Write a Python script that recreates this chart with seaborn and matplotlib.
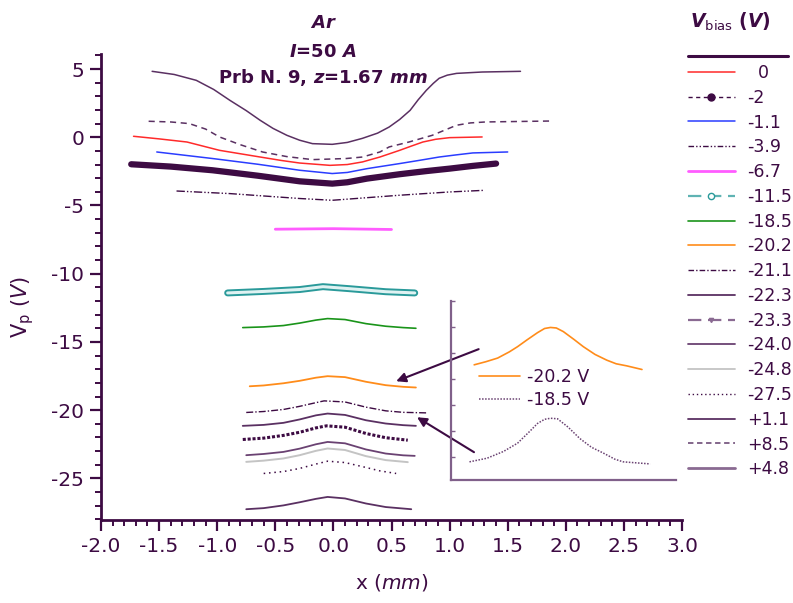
import matplotlib
matplotlib.use('Agg')
import matplotlib.pyplot as plt
import matplotlib.patheffects as pe
from matplotlib.lines import Line2D
from matplotlib.ticker import MultipleLocator, FormatStrFormatter
import seaborn as sns

sns.set_style('ticks')
plt.rcParams['font.family'] = ['DejaVu Sans']
plt.rcParams['axes.unicode_minus'] = False
plt.rcParams['mathtext.fontset'] = 'custom'
plt.rcParams['mathtext.rm'] = 'DejaVu Sans'
plt.rcParams['mathtext.it'] = 'DejaVu Sans:italic'
plt.rcParams['mathtext.bf'] = 'DejaVu Sans:italic:bold'

DARK = '#3d0b43'
PURP = '#5a3062'

# Datos (x en mm, Vp en V)
x_p48 = [-1.56, -1.37, -1.18, -1.03, -0.89, -0.75, -0.63, -0.52, -0.40, -0.29, -0.18, -0.01, 0.12,
         0.25, 0.38, 0.48, 0.57, 0.66, 0.73, 0.80, 0.86, 0.91, 0.98, 1.06, 1.28, 1.61]
y_p48 = [4.83, 4.60, 4.17, 3.50, 2.70, 1.95, 1.24, 0.65, 0.14, -0.22, -0.47, -0.52, -0.38,
         -0.08, 0.30, 0.75, 1.30, 1.97, 2.75, 3.44, 3.95, 4.32, 4.55, 4.68, 4.78, 4.83]

x_p85 = [-1.59, -1.40, -1.24, -1.10, -0.98, -0.80, -0.61, -0.40, -0.18, 0.11, 0.25, 0.40, 0.48,
         0.65, 0.85, 1.06, 1.18, 1.31, 1.88]
y_p85 = [1.17, 1.12, 1.00, 0.60, 0.02, -0.55, -1.08, -1.42, -1.64, -1.56, -1.45, -1.08, -0.71,
         -0.35, 0.14, 0.88, 1.05, 1.12, 1.19]

x_0 = [-1.72, -1.50, -1.26, -0.98, -0.63, -0.45, -0.29, -0.03, 0.12, 0.25, 0.40, 0.57, 0.67,
       0.77, 0.88, 1.00, 1.28]
y_0 = [0.07, -0.12, -0.35, -0.96, -1.45, -1.70, -1.89, -2.06, -2.00, -1.81, -1.45, -0.96, -0.65,
       -0.35, -0.15, -0.03, 0.02]

x_m11 = [-1.52, -1.04, -0.65, -0.29, -0.01, 0.12, 0.29, 0.57, 0.75, 0.91, 1.05, 1.20, 1.50]
y_m11 = [-1.08, -1.56, -1.98, -2.42, -2.66, -2.58, -2.30, -1.93, -1.68, -1.45, -1.30, -1.15, -1.08]

x_m2 = [-1.74, -1.40, -1.04, -0.65, -0.29, -0.01, 0.12, 0.29, 0.57, 0.80, 1.00, 1.20, 1.40]
y_m2 = [-1.98, -2.15, -2.42, -2.82, -3.23, -3.40, -3.30, -3.03, -2.71, -2.48, -2.30, -2.10, -1.93]

x_m39 = [-1.35, -0.89, -0.29, -0.01, 0.57, 1.00, 1.30]
y_m39 = [-3.94, -4.13, -4.49, -4.62, -4.25, -4.01, -3.89]

x_m67 = [-0.50, 0.00, 0.50]
y_m67 = [-6.74, -6.70, -6.76]

x_m115 = [-0.91, -0.60, -0.29, -0.09, 0.14, 0.45, 0.70]
y_m115 = [-11.41, -11.30, -11.16, -10.95, -11.10, -11.32, -11.41]

x_m185 = [-0.78, -0.60, -0.43, -0.29, -0.15, -0.05, 0.10, 0.28, 0.45, 0.60, 0.71]
y_m185 = [-13.95, -13.90, -13.80, -13.62, -13.40, -13.29, -13.36, -13.66, -13.85, -13.95, -14.00]

x_m202 = [-0.72, -0.60, -0.43, -0.29, -0.15, -0.05, 0.10, 0.28, 0.45, 0.60, 0.71]
y_m202 = [-18.25, -18.19, -18.03, -17.85, -17.62, -17.51, -17.58, -17.92, -18.17, -18.29, -18.34]

x_m211 = [-0.75, -0.60, -0.43, -0.29, -0.15, -0.08, 0.10, 0.28, 0.45, 0.60, 0.80]
y_m211 = [-20.17, -20.10, -19.95, -19.72, -19.45, -19.32, -19.40, -19.78, -20.05, -20.16, -20.20]

x_m223 = [-0.78, -0.60, -0.43, -0.29, -0.15, -0.05, 0.10, 0.28, 0.45, 0.60, 0.71]
y_m223 = [-21.15, -21.08, -20.93, -20.68, -20.38, -20.25, -20.35, -20.74, -20.98, -21.10, -21.15]

x_m233 = [-0.78, -0.60, -0.43, -0.29, -0.15, -0.06, 0.10, 0.28, 0.45, 0.64]
y_m233 = [-22.15, -22.05, -21.85, -21.62, -21.30, -21.15, -21.25, -21.71, -22.02, -22.20]

x_m240 = [-0.75, -0.60, -0.43, -0.29, -0.15, -0.05, 0.10, 0.28, 0.45, 0.60, 0.70]
y_m240 = [-23.30, -23.21, -23.06, -22.82, -22.50, -22.33, -22.43, -22.88, -23.18, -23.31, -23.35]

x_m248 = [-0.75, -0.60, -0.43, -0.29, -0.15, -0.05, 0.10, 0.28, 0.45, 0.64]
y_m248 = [-23.79, -23.70, -23.54, -23.30, -22.98, -22.81, -22.92, -23.37, -23.66, -23.81]

x_m275 = [-0.60, -0.43, -0.29, -0.15, -0.05, 0.10, 0.28, 0.40, 0.54]
y_m275 = [-24.64, -24.50, -24.27, -23.95, -23.74, -23.84, -24.20, -24.45, -24.64]

x_p11 = [-0.75, -0.60, -0.43, -0.29, -0.15, -0.05, 0.10, 0.28, 0.45, 0.67]
y_p11 = [-27.26, -27.18, -26.98, -26.75, -26.50, -26.36, -26.47, -26.84, -27.10, -27.26]

# inset (ampliado)
xi_a = [-0.65, -0.55, -0.45, -0.35, -0.28, -0.20, -0.11, -0.05, 0.00, 0.05, 0.11, 0.20, 0.28,
        0.38, 0.48, 0.56, 0.65, 0.78]
yi_a = [-18.23, -18.17, -18.10, -17.98, -17.88, -17.75, -17.61, -17.53, -17.51, -17.52, -17.59,
        -17.74, -17.88, -18.03, -18.14, -18.21, -18.25, -18.32]
xi_b = [-0.69, -0.54, -0.40, -0.28, -0.18, -0.11, -0.05, 0.00, 0.06, 0.15, 0.25, 0.35, 0.45,
        0.55, 0.62, 0.85]
yi_b = [-20.10, -20.03, -19.90, -19.74, -19.52, -19.36, -19.28, -19.26, -19.27, -19.43, -19.65,
        -19.82, -19.93, -20.05, -20.10, -20.14]

leyenda = ['  0', '-2', '-1.1', '-3.9', '-6.7', '-11.5', '-18.5', '-20.2', '-21.1',
           '-22.3', '-23.3', '-24.0', '-24.8', '-27.5', '+1.1', '+8.5', '+4.8']

W, H = 793, 603
fig = plt.figure(figsize=(W / 100, H / 100), dpi=100)
ax = fig.add_axes([101 / W, 1 - 520 / H, (682 - 101) / W, (520 - 54) / H])


def curva(x, y, **kw):
    sns.lineplot(x=x, y=y, ax=ax, sort=False, estimator=None, **kw)


curva(x_p48, y_p48, color=PURP, lw=1.1)
curva(x_p85, y_p85, color=PURP, lw=1.1, dashes=(4, 3))
curva(x_0, y_0, color='#ff2a2a', lw=1.1)
curva(x_m11, y_m11, color='#2a3cff', lw=1.1)
curva(x_m2, y_m2, color=DARK, lw=4.5, solid_joinstyle='round')
curva(x_m39, y_m39, color=DARK, lw=1.0, dashes=(6, 1.5, 1, 1.5, 1, 1.5))
curva(x_m67, y_m67, color='#ff5cff', lw=2.0)
curva(x_m115, y_m115, color='#2a9a9a', lw=5.0,
      path_effects=[pe.Stroke(linewidth=5.0, foreground='#2a9a9a'),
                    pe.Stroke(linewidth=2.2, foreground='#dff2f2')])
curva(x_m185, y_m185, color='#1a941a', lw=1.2)
curva(x_m202, y_m202, color='#ff8c1a', lw=1.3)
curva(x_m211, y_m211, color=DARK, lw=1.0, dashes=(5, 1.5, 1, 1.5))
curva(x_m223, y_m223, color=PURP, lw=1.3)
curva(x_m233, y_m233, color=DARK, lw=2.2, dashes=(1, 0.6))
curva(x_m240, y_m240, color='#6a4272', lw=1.3)
curva(x_m248, y_m248, color='#c4c4c4', lw=1.4)
curva(x_m275, y_m275, color=DARK, lw=1.1, dashes=(1, 2.5))
curva(x_p11, y_p11, color=PURP, lw=1.3)

ax.set_xlim(-2.0, 3.0)
ax.set_ylim(-28.05, 6.1)
ax.xaxis.set_major_locator(MultipleLocator(0.5))
ax.xaxis.set_minor_locator(MultipleLocator(0.1))
ax.yaxis.set_major_locator(MultipleLocator(5))
ax.yaxis.set_minor_locator(MultipleLocator(1))
ax.xaxis.set_major_formatter(FormatStrFormatter('%.1f'))
sns.despine(ax=ax)
for s in ['left', 'bottom']:
    ax.spines[s].set_color(DARK)
    ax.spines[s].set_linewidth(2)
ax.tick_params(which='major', direction='out', length=8, width=1.6, colors=DARK, labelsize=14.5, pad=4)
ax.tick_params(which='minor', direction='out', length=4, width=1.4, colors=DARK)
ax.set_xlabel('x ($\\mathit{mm}$)', fontsize=14.5, color=DARK, labelpad=12)
ax.set_ylabel('V$_\\mathrm{p}$ ($\\mathit{V}$)', fontsize=15, color=DARK)
ax.yaxis.set_label_coords(-0.112, 0.457)

# titulo
for yy, txt in [(23, '$\\mathbf{Ar}$'), (52, '$\\mathbf{I}$=50 $\\mathbf{A}$'),
                (78, 'Prb N. 9, $\\mathbf{z}$=1.67 $\\mathbf{mm}$')]:
    fig.text(323 / W, 1 - yy / H, txt, ha='center', va='center', fontsize=13,
             fontweight='bold', color=DARK)

# flechas
flecha = dict(arrowstyle='-|>', color=DARK, lw=1.5, mutation_scale=14, shrinkA=0, shrinkB=0)
ax.annotate('', xy=(0.54, -17.88), xytext=(1.25, -15.53), arrowprops=flecha)
ax.annotate('', xy=(0.72, -20.52), xytext=(1.21, -23.08), arrowprops=flecha)

# leyenda
estilos = [
    dict(color='#ff2a2a', lw=1.1),
    dict(color=DARK, lw=1.0, dashes=(3, 2.5), marker='o', ms=5, markevery=[1]),
    dict(color='#2a3cff', lw=1.1),
    dict(color=DARK, lw=1.0, dashes=(4, 1.5, 1, 1.5, 1, 1.5)),
    dict(color='#ff5cff', lw=2.0),
    dict(color='#5fb3b3', lw=1.6, dashes=(6, 3), marker='o', ms=4.5, mfc='white', mec='#2a9a9a', markevery=[1]),
    dict(color='#1a941a', lw=1.2),
    dict(color='#ff8c1a', lw=1.2),
    dict(color=DARK, lw=1.0, dashes=(4, 1.5, 1, 1.5)),
    dict(color=PURP, lw=1.3),
    dict(color='#8a6a92', lw=1.6, dashes=(6, 3), marker='v', ms=3, markevery=[1]),
    dict(color='#6a4272', lw=1.3),
    dict(color='#c4c4c4', lw=1.3),
    dict(color=DARK, lw=1.0, dashes=(1, 2)),
    dict(color=PURP, lw=1.3),
    dict(color='#7a5a82', lw=1.3, dashes=(3, 2)),
    dict(color='#8a6a92', lw=2.0),
]
handles = [Line2D([0, 0.5, 1], [0, 0, 0], **e) for e in estilos]
leg = fig.legend(handles, leyenda, loc='upper left', bbox_to_anchor=(688 / W, 1 - 64 / H),
                 frameon=False, fontsize=12.5, handlelength=2.7, handletextpad=0.69,
                 labelspacing=0.39, borderpad=0, borderaxespad=0)
for t in leg.get_texts():
    t.set_color(DARK)
fig.text(690 / W, 1 - 22 / H, '$\\mathbf{V}_{\\mathrm{bias}}$ ($\\mathbf{V}$)', fontsize=13.5,
         fontweight='bold', color=DARK, ha='left', va='center')
fig.add_artist(Line2D([688 / W, 788 / W], [1 - 56 / H, 1 - 56 / H], color=DARK, lw=2.2,
                      transform=fig.transFigure))

# inset
axi = fig.add_axes([450.7 / W, 1 - 480 / H, (676 - 450.7) / W, (480 - 301) / H])
axi.patch.set_alpha(0)
sns.lineplot(x=xi_a, y=yi_a, ax=axi, sort=False, estimator=None, color='#ff8c1a', lw=1.2, label='-20.2 V')
sns.lineplot(x=xi_b, y=yi_b, ax=axi, sort=False, estimator=None, color='#6a4272', lw=1.1,
             dashes=(1, 1), label='-18.5 V')
axi.set_xlim(-0.85, 1.07)
axi.set_ylim(-20.45, -17.0)
axi.yaxis.set_major_locator(MultipleLocator(0.5))
axi.set_xticks([])
axi.set_yticklabels([])
axi.tick_params(axis='y', direction='in', length=3, width=1, colors='#80608a')
sns.despine(ax=axi)
for s in ['left', 'bottom']:
    axi.spines[s].set_color('#80608a')
    axi.spines[s].set_linewidth(1.6)
lgi = axi.legend(loc='upper left', bbox_to_anchor=(470 / W, 1 - 359 / H),
                 bbox_transform=fig.transFigure, frameon=False, fontsize=12.5,
                 handlelength=2.4, handletextpad=0.4, labelspacing=0.33, borderpad=0)
for t in lgi.get_texts():
    t.set_color(DARK)

fig.savefig('out.png', dpi=100)
